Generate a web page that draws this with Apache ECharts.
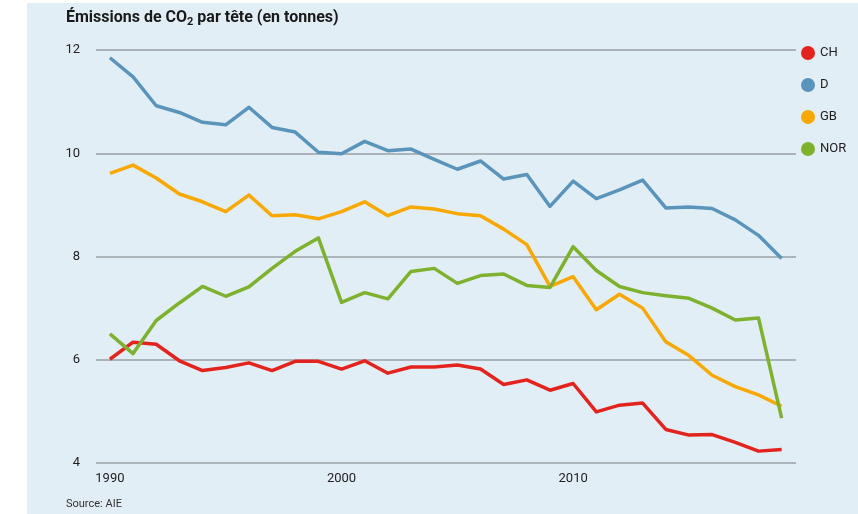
<!DOCTYPE html>
<html>
<head>
<meta charset="utf-8">
<style>
html, body {
  margin: 0;
  padding: 0;
  background: #fff;
}
#chart {
  width: 858px;
  height: 514px;
}
</style>
<script src="https://cdn.jsdelivr.net/npm/echarts@6/dist/echarts.min.js"></script>
</head>
<body>
<div id="chart"></div>
<script>
// données (t de CO2 par habitant)
var years = []
for (var y = 1990; y <= 2019; y++) years.push(y)

var seriesNames = ['CH', 'D', 'GB', 'NOR']
var chValues = [6.01, 6.34, 6.30, 5.98, 5.79, 5.85, 5.94, 5.79, 5.97, 5.97,
  5.82, 5.98, 5.74, 5.86, 5.86, 5.90, 5.82, 5.52, 5.61, 5.41,
  5.54, 4.99, 5.12, 5.16, 4.65, 4.54, 4.55, 4.40, 4.23, 4.26]
var dValues = [11.85, 11.48, 10.92, 10.79, 10.60, 10.55, 10.89, 10.50, 10.41, 10.02,
  9.99, 10.23, 10.05, 10.08, 9.88, 9.69, 9.85, 9.50, 9.59, 8.97,
  9.46, 9.12, 9.29, 9.48, 8.94, 8.96, 8.93, 8.71, 8.41, 7.96]
var gbValues = [9.61, 9.77, 9.52, 9.21, 9.06, 8.87, 9.19, 8.79, 8.81, 8.73,
  8.87, 9.06, 8.79, 8.96, 8.92, 8.83, 8.79, 8.53, 8.23, 7.42,
  7.61, 6.97, 7.27, 7.00, 6.35, 6.08, 5.70, 5.48, 5.32, 5.10]
var norValues = [6.50, 6.12, 6.76, 7.10, 7.42, 7.23, 7.41, 7.77, 8.10, 8.36,
  7.11, 7.30, 7.18, 7.71, 7.77, 7.48, 7.63, 7.66, 7.44, 7.40,
  8.19, 7.73, 7.42, 7.30, 7.24, 7.19, 7.00, 6.77, 6.81, 4.87]
var xTickLabels = [1990, 2000, 2010]

var colors = ['#e3241e', '#5b94bb', '#f9a800', '#7db12e']
var allValues = [chValues, dValues, gbValues, norValues]
var fontFamily = '"Roboto", sans-serif'

var chart = echarts.init(document.getElementById('chart'))

var option = {
  animation: false,
  textStyle: { fontFamily: fontFamily },
  graphic: [
    {
      type: 'rect',
      left: 27,
      top: 3,
      shape: { width: 831, height: 511 },
      style: { fill: '#e2eef5' },
      z: -10
    },
    {
      type: 'text',
      left: 66,
      top: 10,
      style: {
        text: 'Émissions de CO{sub|2} par tête (en tonnes)',
        fontFamily: fontFamily,
        fontSize: 16,
        fontWeight: 'bold',
        fill: '#1a1a1a',
        rich: {
          sub: {
            fontFamily: fontFamily,
            fontSize: 11,
            fontWeight: 'bold',
            fill: '#1a1a1a',
            padding: [8, 0, 0, 0]
          }
        }
      }
    },
    {
      type: 'text',
      left: 66,
      top: 499,
      style: {
        text: 'Source: AIE',
        fontFamily: fontFamily,
        fontSize: 11,
        fill: '#333'
      }
    }
  ],
  legend: {
    orient: 'vertical',
    left: 801,
    top: 46,
    padding: 0,
    itemWidth: 14,
    itemHeight: 14,
    itemGap: 18,
    icon: 'circle',
    textStyle: { fontSize: 13, color: '#222', fontFamily: fontFamily },
    data: seriesNames
  },
  grid: {
    left: 96,
    right: 62,
    top: 50,
    bottom: 51,
    containLabel: false
  },
  xAxis: {
    type: 'value',
    min: 1989.4,
    max: 2019.62,
    axisLine: { show: false },
    axisTick: { show: false },
    splitLine: { show: false },
    axisLabel: {
      customValues: xTickLabels,
      formatter: function (v) { return String(v) },
      margin: 9,
      fontSize: 13,
      color: '#222',
      fontFamily: fontFamily
    }
  },
  yAxis: {
    type: 'value',
    min: 4,
    max: 12,
    interval: 2,
    axisLine: { show: false },
    axisTick: { show: false },
    axisLabel: {
      margin: 16,
      fontSize: 13,
      color: '#222',
      fontFamily: fontFamily
    },
    splitLine: {
      lineStyle: { color: '#9ba1a5', width: 1.5 }
    }
  },
  series: seriesNames.map(function (name, i) {
    return {
      name: name,
      type: 'line',
      symbol: 'none',
      color: colors[i],
      lineStyle: { width: 3.5, color: colors[i], join: 'round' },
      data: years.map(function (yr, j) { return [yr, allValues[i][j]] })
    }
  })
}

chart.setOption(option)
</script>
</body>
</html>
